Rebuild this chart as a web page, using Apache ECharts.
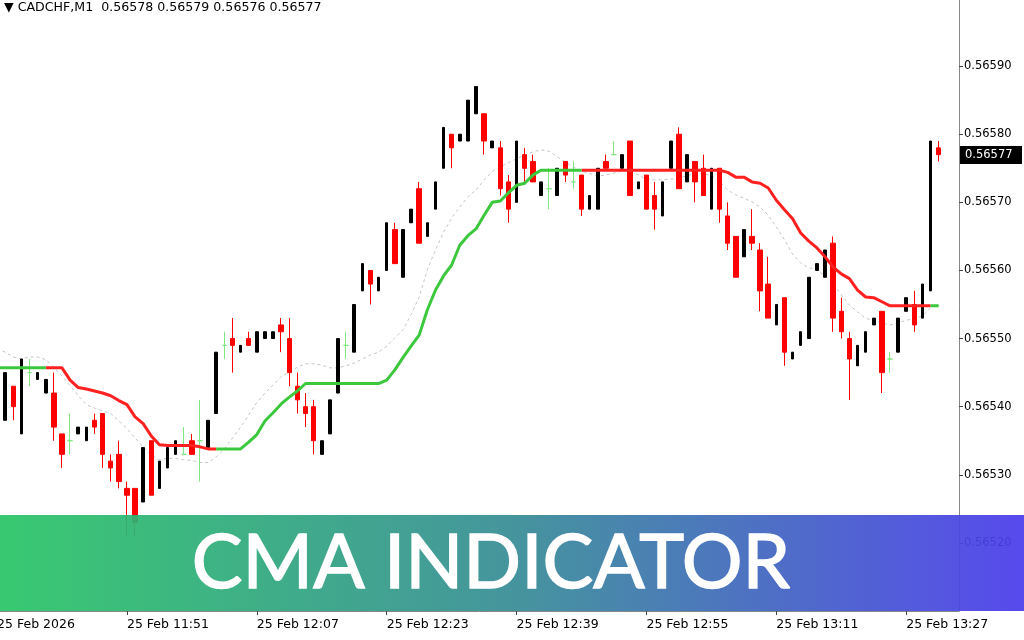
<!DOCTYPE html>
<html><head><meta charset="utf-8">
<script src="https://cdn.jsdelivr.net/npm/echarts@6/dist/echarts.min.js"></script>
<style>html,body{margin:0;padding:0;background:#fff}#c{width:1024px;height:640px}</style>
</head><body><div id="c"></div>
<script>
// ---- DATA ----
const symbolTitle = 'CADCHF,M1  0.56578 0.56579 0.56576 0.56577';
const bannerTitle = 'CMA INDICATOR';
const startTime = '11:35';          // first slot on the time axis
const slotCount = 119;              // M1 slots shown on the axis (11:35 .. 13:33)
const firstCandleSlot = 1;          // first candle opens 11:36
const tickSlots  = [0, 16, 32, 48, 64, 80, 96, 112];
const tickLabels = ['25 Feb 2026','25 Feb 11:51','25 Feb 12:07','25 Feb 12:23','25 Feb 12:39','25 Feb 12:55','25 Feb 13:11','25 Feb 13:27'];

const open = [0.56538,0.56543,0.56536,0.56545,0.56544,0.56542,0.56542,0.56536,0.56535,0.56536,
0.56535,0.56538,0.56539,0.56532,0.56533,0.56528,0.56528,0.56526,0.56535,0.56528,
0.56531,0.56533,0.56533,0.56535,0.56535,0.56534,0.56539,0.56549,0.56550,0.56548,
0.56550,0.56548,0.56550,0.56550,0.56552,0.56550,0.56543,0.56540,0.56540,0.56533,
0.56536,0.56542,0.56549,0.56548,0.56557,0.56560,0.56557,0.56560,0.56566,0.56559,
0.56567,0.56572,0.56565,0.56569,0.56575,0.56580,0.56579,0.56579,0.56583,0.56583,
0.56578,0.56578,0.56573,0.56570,0.56577,0.56576,0.56571,0.56572,0.56571,0.56576,
0.56573,0.56574,0.56569,0.56569,0.56576,0.56577,0.56575,0.56579,0.56572,0.56574,
0.56571,0.56568,0.56575,0.56580,0.56573,0.56576,0.56575,0.56569,0.56575,0.56568,
0.56565,0.56562,0.56565,0.56563,0.56558,0.56552,0.56556,0.56547,0.56549,0.56550,
0.56560,0.56559,0.56564,0.56554,0.56550,0.56546,0.56548,0.56552,0.56554,0.56547,
0.56548,0.56554,0.56555,0.56553,0.56557,0.56578];
const close = [0.56545,0.56540,0.56547,0.56545,0.56545,0.56544,0.56537,0.56533,0.56535,0.56537,
0.56537,0.56537,0.56533,0.56531,0.56529,0.56527,0.56523,0.56534,0.56527,0.56532,
0.56534,0.56535,0.56533,0.56533,0.56535,0.56538,0.56548,0.56549,0.56549,0.56549,
0.56549,0.56551,0.56551,0.56551,0.56551,0.56545,0.56541,0.56539,0.56535,0.56535,
0.56541,0.56550,0.56549,0.56555,0.56561,0.56558,0.56559,0.56567,0.56561,0.56566,
0.56569,0.56564,0.56567,0.56573,0.56581,0.56578,0.56580,0.56585,0.56587,0.56579,
0.56579,0.56572,0.56569,0.56579,0.56575,0.56573,0.56573,0.56572,0.56575,0.56574,
0.56573,0.56569,0.56571,0.56575,0.56575,0.56577,0.56577,0.56571,0.56573,0.56569,
0.56569,0.56573,0.56579,0.56572,0.56577,0.56573,0.56571,0.56575,0.56569,0.56564,
0.56559,0.56566,0.56564,0.56557,0.56553,0.56555,0.56548,0.56548,0.56551,0.56559,
0.56561,0.56563,0.56553,0.56551,0.56547,0.56549,0.56551,0.56553,0.56545,0.56547,
0.56553,0.56556,0.56552,0.56558,0.56579,0.56577];
const low = [0.56538,0.56538,0.56536,0.56543,0.56544,0.56542,0.56535,0.56531,0.56533,0.56536,
0.56535,0.56536,0.56531,0.56529,0.56528,0.56521,0.56521,0.56526,0.56527,0.56528,
0.56531,0.56533,0.56533,0.56533,0.56529,0.56534,0.56539,0.56547,0.56545,0.56548,
0.56549,0.56548,0.56550,0.56550,0.56548,0.56543,0.56539,0.56537,0.56533,0.56533,
0.56536,0.56542,0.56547,0.56548,0.56557,0.56555,0.56557,0.56560,0.56561,0.56559,
0.56567,0.56564,0.56565,0.56569,0.56575,0.56575,0.56579,0.56579,0.56583,0.56577,
0.56578,0.56571,0.56567,0.56570,0.56573,0.56573,0.56571,0.56569,0.56571,0.56573,
0.56572,0.56568,0.56569,0.56569,0.56575,0.56577,0.56575,0.56571,0.56572,0.56569,
0.56566,0.56568,0.56575,0.56572,0.56573,0.56570,0.56571,0.56569,0.56567,0.56563,
0.56559,0.56562,0.56563,0.56554,0.56553,0.56552,0.56546,0.56547,0.56549,0.56550,
0.56560,0.56559,0.56551,0.56550,0.56541,0.56546,0.56548,0.56552,0.56542,0.56545,
0.56548,0.56554,0.56551,0.56553,0.56557,0.56576];
const high = [0.56545,0.56543,0.56547,0.56547,0.56545,0.56544,0.56545,0.56536,0.56539,0.56537,
0.56537,0.56539,0.56539,0.56533,0.56535,0.56529,0.56528,0.56534,0.56535,0.56532,
0.56534,0.56535,0.56537,0.56536,0.56541,0.56538,0.56548,0.56551,0.56553,0.56549,
0.56551,0.56551,0.56551,0.56551,0.56553,0.56553,0.56545,0.56542,0.56541,0.56535,
0.56541,0.56550,0.56551,0.56555,0.56561,0.56560,0.56559,0.56567,0.56567,0.56566,
0.56569,0.56573,0.56567,0.56573,0.56581,0.56580,0.56580,0.56585,0.56587,0.56583,
0.56579,0.56579,0.56574,0.56579,0.56578,0.56577,0.56573,0.56575,0.56575,0.56576,
0.56576,0.56574,0.56571,0.56575,0.56577,0.56579,0.56577,0.56579,0.56573,0.56574,
0.56573,0.56573,0.56579,0.56581,0.56577,0.56576,0.56577,0.56575,0.56575,0.56570,
0.56565,0.56566,0.56569,0.56564,0.56562,0.56555,0.56556,0.56548,0.56551,0.56559,
0.56561,0.56563,0.56565,0.56556,0.56551,0.56549,0.56551,0.56553,0.56554,0.56548,
0.56553,0.56556,0.56557,0.56558,0.56579,0.56579];

// CMA line, one value per axis slot from 11:35
const cma = [0.565457,0.565457,0.565457,0.565457,0.565457,0.565457,0.565457,0.565457,0.565457,
0.565439,0.565428,0.565426,0.565423,0.565420,0.565416,0.565409,0.565403,0.565385,0.565375,
0.565357,0.565344,0.565343,0.565343,0.565343,0.565343,0.565341,0.565338,0.565338,0.565338,
0.565338,0.565338,0.565348,0.565359,0.565379,0.565391,0.565404,0.565414,0.565423,
0.565434,0.565434,0.565434,0.565434,0.565434,0.565434,0.565434,0.565434,0.565434,0.565434,
0.565439,0.565454,0.565472,0.565489,0.565505,0.565542,0.565571,0.565592,0.565608,0.565637,
0.565651,0.565661,0.565681,0.565700,0.565702,0.565714,0.565725,0.565728,0.565740,
0.565747,0.565747,0.565747,0.565747,0.565747,0.565747,0.565747,0.565747,0.565747,0.565747,
0.565747,0.565747,0.565747,0.565747,0.565747,0.565747,0.565747,0.565747,0.565747,0.565747,
0.565747,0.565747,0.565747,
0.565744,0.565737,0.565737,0.565730,0.565728,0.565721,0.565703,0.565689,0.565676,0.565655,
0.565643,0.565633,0.565620,0.565605,0.565595,0.565588,0.565571,0.565561,0.565560,0.565554,
0.565548,0.565548,0.565548,0.565548,0.565548,0.565548,0.565548];
// colour segments of the CMA line (slot ranges)
const cmaUpRanges   = [[0, 6], [27, 72], [115, 116]];
const cmaDownRanges = [[6, 27], [72, 115]];

// dashed moving average, one value per slot from 11:35
const ma = [0.565485,0.565480,0.565473,0.565470,0.565473,0.565473,0.565469,0.565458,0.565445,0.565431,
0.565416,0.565403,0.565398,0.565394,0.565390,0.565379,0.565368,0.565354,0.565341,0.565329,
0.565322,0.565324,0.565324,0.565322,0.565321,0.565318,0.565318,0.565326,0.565338,0.565354,
0.565370,0.565388,0.565406,0.565420,0.565432,0.565444,0.565451,0.565458,0.565463,0.565463,
0.565461,0.565457,0.565457,0.565460,0.565464,0.565470,0.565476,0.565480,0.565489,0.565501,
0.565513,0.565535,0.565561,0.565601,0.565630,0.565656,0.565677,0.565693,0.565708,0.565718,
0.565733,0.565745,0.565752,0.565758,0.565764,0.565769,0.565774,0.565777,0.565775,0.565767,
0.565759,0.565752,0.565746,0.565742,0.565739,0.565740,0.565743,0.565746,0.565746,0.565740,
0.565734,0.565733,0.565733,0.565734,0.565736,0.565739,0.565742,0.565742,0.565739,0.565731,
0.565718,0.565711,0.565706,0.565701,0.565693,0.565681,0.565664,0.565645,0.565624,0.565611,
0.565604,0.565601,0.565592,0.565582,0.565564,0.565549,0.565539,0.565530,0.565526,0.565523,
0.565520,0.565523,0.565527,0.565529,0.565533,0.565545];

const yMin = 0.5651, yMax = 0.5660, yStep = 0.0001;

// ---- BUILD ----
const categories = [];
{
  const [h0, m0] = startTime.split(':').map(Number);
  for (let i = 0; i < slotCount; i++) {
    const t = h0 * 60 + m0 + i;
    categories.push(String(Math.floor(t / 60)).padStart(2, '0') + ':' + String(t % 60).padStart(2, '0'));
  }
}
const EMPTY = ['-', '-', '-', '-'];
function candles(kind) {
  return categories.map((c, i) => {
    const k = i - firstCandleSlot;
    if (k < 0 || k >= open.length) return EMPTY;
    const o = open[k], cl = close[k];
    const kk = cl > o ? 'bull' : (cl < o ? 'bear' : 'doji');
    return kk === kind ? [o, cl, low[k], high[k]] : EMPTY;
  });
}
function segmented(values, ranges) {
  return categories.map((c, i) => {
    if (i >= values.length) return '-';
    return ranges.some(r => i >= r[0] && i <= r[1]) ? values[i] : '-';
  });
}
const FONT = 'DejaVu Sans';
const RED = '#ff0000', BLACK = '#000000', DOJI = '#7fe87f';
const UP = '#3cc83c', DOWN = '#ff2020';

const chart = echarts.init(document.getElementById('c'), null, {renderer: 'canvas', width: 1024, height: 640});
const GRID_LEFT = -7, GRID_WIDTH = 966;
const option = {
  animation: false,
  backgroundColor: '#ffffff',
  grid: {left: GRID_LEFT, width: GRID_WIDTH, top: -2, bottom: 29, containLabel: false, outerBoundsMode: 'none'},
  xAxis: {
    type: 'category', data: categories, boundaryGap: true,
    axisLine: {show: true, lineStyle: {color: '#888888', width: 1}},
    axisTick: {show: true, alignWithLabel: true, length: 4, interval: (i) => tickSlots.includes(i), lineStyle: {color: '#444'}},
    axisLabel: {
      interval: (i) => tickSlots.includes(i),
      formatter: (v) => { const j = tickSlots.indexOf(categories.indexOf(v)); return j >= 0 ? tickLabels[j] : ''; },
      align: 'left', color: '#000', fontFamily: FONT, fontSize: 12.5, margin: 7
    },
    splitLine: {show: false}
  },
  yAxis: {
    type: 'value', position: 'right', min: yMin, max: yMax, interval: yStep,
    axisLine: {show: true, lineStyle: {color: '#888888', width: 1}},
    axisTick: {show: true, length: 4, lineStyle: {color: '#444'}},
    axisLabel: {formatter: (v) => v.toFixed(5), showMinLabel: false, showMaxLabel: false,
      color: '#000', fontFamily: FONT, fontSize: 11.5, margin: 5},
    splitLine: {show: false}
  },
  series: [
    {type: 'line', data: ma, showSymbol: false, silent: true,
      lineStyle: {color: '#c4c4c4', width: 1, type: [3, 3]}, z: 2},
    {type: 'candlestick', data: candles('bull'), barWidth: 3, silent: true, z: 3,
      itemStyle: {color: BLACK, color0: BLACK, borderColor: BLACK, borderColor0: BLACK, borderWidth: 1}},
    {type: 'candlestick', data: candles('bear'), barWidth: 5, silent: true, z: 3,
      itemStyle: {color: RED, color0: RED, borderColor: RED, borderColor0: RED, borderWidth: 1}},
    {type: 'candlestick', data: candles('doji'), barWidth: 5, silent: true, z: 3,
      itemStyle: {color: DOJI, color0: DOJI, borderColor: DOJI, borderColor0: DOJI, borderColorDoji: DOJI, borderWidth: 1}},
    {type: 'line', data: segmented(cma, cmaDownRanges), showSymbol: false, silent: true, z: 4,
      lineStyle: {color: DOWN, width: 3}},
    {type: 'line', data: segmented(cma, cmaUpRanges), showSymbol: false, silent: true, z: 4,
      lineStyle: {color: UP, width: 3}}
  ]
};
chart.setOption(option);

const lastClose = close[close.length - 1];
const tagY = chart.convertToPixel({yAxisIndex: 0}, lastClose);
const axisX = GRID_LEFT + GRID_WIDTH;
chart.setOption({
  graphic: [
    {type: 'text', left: 4, top: 1, z: 50, style: {text: '▼ ' + symbolTitle, font: '12.6px "DejaVu Sans"', fill: '#000'}},
    {type: 'rect', shape: {x: axisX + 1, y: Math.round(tagY) - 9, width: 62, height: 18}, z: 50, style: {fill: '#000'}},
    {type: 'text', x: axisX + 6, y: Math.round(tagY), z: 51, style: {text: lastClose.toFixed(5), font: '11.5px "DejaVu Sans"', fill: '#fff', textVerticalAlign: 'middle'}},
    {type: 'rect', shape: {x: 0, y: 515, width: 1024, height: 96}, z: 100,
      style: {opacity: 0.93, fill: new echarts.graphic.LinearGradient(0, 0, 1, 0, [
        {offset: 0, color: '#2ac566'}, {offset: 0.5, color: '#378d95'}, {offset: 1, color: '#4b3cec'}])}},
    {type: 'text', x: 491, y: 563, z: 101, style: {text: bannerTitle, font: '76px Lato', fill: '#ffffff', stroke: '#ffffff', lineWidth: 1.5, textAlign: 'center', textVerticalAlign: 'middle'}}
  ]
});
</script>
</body></html>
